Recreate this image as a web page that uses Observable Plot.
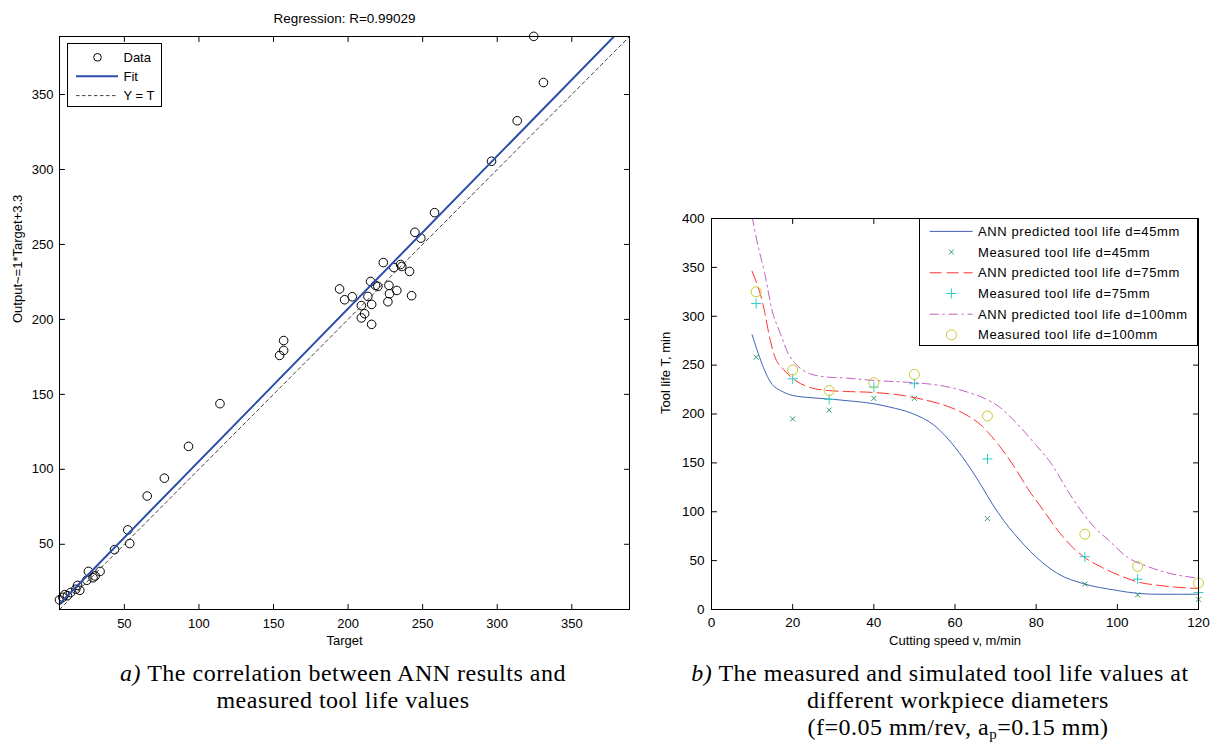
<!DOCTYPE html>
<html><head><meta charset="utf-8">
<script src="https://cdn.jsdelivr.net/npm/d3@7"></script>
<script src="https://cdn.jsdelivr.net/npm/@observablehq/plot@0.6"></script>
<style>
body{margin:0;background:#fff;}
#root{position:relative;width:1219px;height:749px;overflow:hidden;background:#fff;font-family:"Liberation Sans",Arial,sans-serif;color:#000;}
#root svg{position:absolute;overflow:visible;}
.legend{position:absolute;background:#fff;border:1px solid #000;box-sizing:border-box;}
.legend svg{position:absolute;left:0;top:0;}
.cap{position:absolute;font-family:"Liberation Serif","Times New Roman",serif;font-size:24px;letter-spacing:0.5px;line-height:27px;white-space:nowrap;text-align:center;color:#000;}
</style></head><body><div id="root"></div>
<script>
// ---------- Panel a: regression data ----------
const regTitle = "Regression: R=0.99029";
const regXLabel = "Target";
const regYLabel = "Output~=1*Target+3.3";
const regTarget = [258, 244.8, 248.8, 223.6, 230.7, 235.2, 236, 241.2, 215.1, 220, 218.4, 227.4, 232.7, 227.8, 194.3, 197.7, 202.8, 213.3, 242.6, 226.7, 215.8, 208.9, 211.1, 208.9, 215.8, 324.5, 331, 313.4, 296.2, 114.1, 93, 76.8, 65.3, 52.3, 53.6, 43.4, 156.8, 156.8, 154.1, 25.9, 33.7, 30.4, 29, 24.8, 18.6, 20.1, 17.4, 13.9, 10, 8.7, 6.5, 11.8];
const regOutput = [271.2, 258.1, 254.2, 237.9, 234.6, 236.6, 235.3, 232, 225.3, 222, 222.7, 222.7, 219.3, 217.1, 220.3, 213.1, 215.1, 215.3, 215.8, 211.8, 210, 209.2, 203.8, 201, 196.7, 388.8, 358, 332.5, 305.5, 143.8, 115.3, 94.1, 82.2, 59.6, 50.5, 46.4, 185.9, 179.3, 176, 31.9, 31.9, 28.9, 27.7, 26, 22.6, 19.3, 20, 17.8, 16.4, 14.6, 12.9, 15.7];
const regDomain = [6.5, 388.7];
const regTicks = [50, 100, 150, 200, 250, 300, 350];
const fitSlope = 1.018, fitIntercept = 3.6;
const regLegendLabels = ["Data", "Fit", "Y = T"];

// ---------- Panel b: tool life data ----------
const toolXLabel = "Cutting speed v, m/min";
const toolYLabel = "Tool life T, min";
const toolXTicks = [0, 20, 40, 60, 80, 100, 120];
const toolYTicks = [0, 50, 100, 150, 200, 250, 300, 350, 400];
const measV = [11, 20, 29, 40, 50, 68, 92, 105, 120];
const meas45 = [258, 195, 204, 216, 216, 93, 26, 15, 10.5];
const meas75 = [313, 236, 215, 227.5, 231, 154, 54, 31, 17.3];
const meas100 = [325, 245, 224, 232, 240.5, 198, 77, 44, 27];
const ann45V = [10, 15, 17, 20, 25, 30, 35, 40, 44, 49.5, 55, 60, 64, 66.6, 69.2, 72, 74.6, 80, 85.3, 91.6, 99.6, 105, 110, 120];
const ann45T = [281, 230, 224, 219, 216.5, 215, 213, 210.5, 207, 200.5, 188, 166, 143, 126, 108, 91, 77.5, 53.7, 36.7, 26.5, 19.7, 16.5, 15.6, 15.6];
const ann75V = [10, 12.7, 14.5, 15.4, 18.1, 20.8, 24.4, 28.8, 33.3, 40, 47.7, 53, 58.4, 63, 66.6, 68.2, 71, 74.6, 78.2, 81.8, 85.3, 88.9, 91.8, 96, 101.5, 105, 110, 114, 120];
const ann75T = [346, 312, 275, 261, 244, 234, 227, 224, 223, 222, 218.6, 214, 207.5, 198.5, 188, 181, 167, 146, 122, 101.4, 81, 64, 53.7, 43.5, 33.3, 28.2, 24.8, 23, 21.4];
const ann100V = [10, 10.8, 11.7, 12.4, 13.1, 13.9, 14.7, 17, 19, 20.8, 24.4, 28.8, 33.3, 40, 47.7, 53, 58.4, 63, 67.4, 71, 74.6, 80, 83.6, 88, 91.6, 94.3, 97.9, 102.4, 107.8, 113.2, 120];
const ann100T = [402, 385, 368, 356, 344, 327, 310, 282, 261, 251, 241, 237.7, 236.7, 234.3, 232.6, 231, 227.6, 222.5, 215.7, 207, 193, 168, 150, 120, 98, 84.4, 70.7, 53.7, 43.5, 36.7, 32];
const toolLegendLabels = ["ANN predicted tool life d=45mm", "Measured tool life d=45mm", "ANN predicted tool life d=75mm", "Measured tool life d=75mm", "ANN predicted tool life d=100mm", "Measured tool life d=100mm"];

const C = {fit: "#2b4ea8", blue: "#4262b8", green: "#2f9a6a", red: "#ff3030", cyan: "#2ccccc", purple: "#c060c0", yellow: "#c8c832"};

// ---------- helpers ----------
const tickShape = {draw(ctx, l) { ctx.moveTo(0, 0); ctx.lineTo(0, -l); }};
function boxTicks(xt, yt, len) {
  const o = {length: len, shape: tickShape, anchor: "start", stroke: "#000", strokeWidth: 1};
  return [
    Plot.vector(xt, {...o, x: d => d, frameAnchor: "bottom", rotate: 0}),
    Plot.vector(xt, {...o, x: d => d, frameAnchor: "top", rotate: 180}),
    Plot.vector(yt, {...o, y: d => d, frameAnchor: "left", rotate: 90}),
    Plot.vector(yt, {...o, y: d => d, frameAnchor: "right", rotate: 270})
  ];
}
const symX = {draw(c) { c.moveTo(-2.5, -2.5); c.lineTo(2.5, 2.5); c.moveTo(-2.5, 2.5); c.lineTo(2.5, -2.5); }};
const symPlus = {draw(c) { c.moveTo(-5, 0); c.lineTo(5, 0); c.moveTo(0, -5); c.lineTo(0, 5); }};
const symCircle = {draw(c) { c.moveTo(5, 0); c.arc(0, 0, 5, 0, 2 * Math.PI); }};

const root = document.getElementById("root");

// ---------- Panel a ----------
const regData = regTarget.map((t, i) => ({t, o: regOutput[i]}));
const fitLine = regDomain.map(x => ({x, y: fitSlope * x + fitIntercept}));
const idLine = regDomain.map(x => ({x, y: x}));
const left = Plot.plot({
  width: 640, height: 660,
  marginLeft: 59, marginRight: 11, marginTop: 36, marginBottom: 51,
  x: {domain: regDomain}, y: {domain: regDomain},
  style: {fontFamily: "'Liberation Sans', Arial, sans-serif", fontSize: "13px", color: "#000", background: "transparent"},
  marks: [
    Plot.dot(regData, {x: "t", y: "o", r: 4.3, stroke: "#000", strokeWidth: 1, fill: "none"}),
    Plot.line(fitLine, {x: "x", y: "y", stroke: C.fit, strokeWidth: 2, clip: true}),
    Plot.line(idLine, {x: "x", y: "y", stroke: "#444", strokeWidth: 1, strokeDasharray: "3.5,3", clip: true}),
    Plot.frame({stroke: "#000", strokeWidth: 1}),
    ...boxTicks(regTicks, regTicks, 5),
    Plot.axisX(regTicks, {anchor: "bottom", tickSize: 0, tickPadding: 9, label: null, fontSize: 13}),
    Plot.axisY(regTicks, {anchor: "left", tickSize: 0, tickPadding: 6, label: null, fontSize: 13}),
    Plot.text([regXLabel], {frameAnchor: "bottom", dy: 31, lineAnchor: "middle", fontSize: 13}),
    Plot.text([regYLabel], {frameAnchor: "left", dx: -42, rotate: -90, lineAnchor: "middle", fontSize: 13}),
    Plot.text([regTitle], {frameAnchor: "top", dy: -18, lineAnchor: "middle", fontSize: 13.5})
  ]
});
left.style.left = "0px"; left.style.top = "0px";
root.appendChild(left);

// ---------- Panel b ----------
const toRows = (V, T) => V.map((v, i) => ({v, t: T[i]}));
const right = Plot.plot({
  width: 579, height: 470,
  marginLeft: 71, marginRight: 21, marginTop: 28, marginBottom: 51,
  x: {domain: [0, 120]}, y: {domain: [0, 400]},
  style: {fontFamily: "'Liberation Sans', Arial, sans-serif", fontSize: "13px", color: "#000", background: "transparent"},
  marks: [
    Plot.line(toRows(ann45V, ann45T), {x: "v", y: "t", stroke: C.blue, strokeWidth: 1, curve: "monotone-x", clip: true}),
    Plot.dot(toRows(measV, meas45), {x: "v", y: "t", symbol: symX, stroke: C.green, fill: "none", strokeWidth: 1}),
    Plot.line(toRows(ann75V, ann75T), {x: "v", y: "t", stroke: C.red, strokeWidth: 1, strokeDasharray: "12,5", curve: "monotone-x", clip: true}),
    Plot.dot(toRows(measV, meas75), {x: "v", y: "t", symbol: symPlus, stroke: C.cyan, fill: "none", strokeWidth: 1}),
    Plot.line(toRows(ann100V, ann100T), {x: "v", y: "t", stroke: C.purple, strokeWidth: 1, strokeDasharray: "9,4,2,4", curve: "monotone-x", clip: true}),
    Plot.dot(toRows(measV, meas100), {x: "v", y: "t", symbol: symCircle, stroke: C.yellow, fill: "none", strokeWidth: 1}),
    Plot.frame({stroke: "#000", strokeWidth: 1}),
    ...boxTicks(toolXTicks, toolYTicks, 5),
    Plot.axisX(toolXTicks, {anchor: "bottom", tickSize: 0, tickPadding: 8, label: null, fontSize: 13.5}),
    Plot.axisY(toolYTicks, {anchor: "left", tickSize: 0, tickPadding: 7, label: null, fontSize: 13.5}),
    Plot.text([toolXLabel], {frameAnchor: "bottom", dy: 31, lineAnchor: "middle", fontSize: 13, letterSpacing: "0.5px"}),
    Plot.text([toolYLabel], {frameAnchor: "left", dx: -46, rotate: -90, lineAnchor: "middle", fontSize: 13, letterSpacing: "0.5px"})
  ]
});
right.style.left = "640px"; right.style.top = "190px";
root.appendChild(right);

// ---------- Legends ----------
function legendBox(x, y, w, h, rows, textX, fontSize, ls) {
  const div = document.createElement("div");
  div.className = "legend";
  Object.assign(div.style, {left: x + "px", top: y + "px", width: w + "px", height: h + "px"});
  let s = `<svg width="${w}" height="${h}" style="font-family:'Liberation Sans',Arial,sans-serif;font-size:${fontSize}px;letter-spacing:${ls}px">`;
  for (const r of rows) {
    s += r.sample;
    s += `<text x="${textX}" y="${r.y}" dy="0.35em" fill="#000">${r.label}</text>`;
  }
  s += "</svg>";
  div.innerHTML = s;
  root.appendChild(div);
}
// panel a legend
{
  const ys = [13.3, 32.3, 51.6];
  legendBox(67, 43, 95, 64, [
    {y: ys[0], label: regLegendLabels[0], sample: `<circle cx="29.5" cy="${ys[0]}" r="3.8" fill="none" stroke="#000"/>`},
    {y: ys[1], label: regLegendLabels[1], sample: `<line x1="8" x2="50" y1="${ys[1]}" y2="${ys[1]}" stroke="${C.fit}" stroke-width="2"/>`},
    {y: ys[2], label: regLegendLabels[2], sample: `<line x1="8" x2="50" y1="${ys[2]}" y2="${ys[2]}" stroke="#444" stroke-dasharray="3.5,2.5"/>`}
  ], 55.5, 13, 0);
}
// panel b legend
{
  const ys = [12.4, 33.1, 53.8, 74.5, 95.2, 115.9];
  const mx = 31.4;
  const line = (y, col, dash) => `<line x1="9.6" x2="52.6" y1="${y}" y2="${y}" stroke="${col}" ${dash ? `stroke-dasharray="${dash}"` : ""}/>`;
  legendBox(919, 218, 279, 128, [
    {y: ys[0], label: toolLegendLabels[0], sample: line(ys[0], C.blue)},
    {y: ys[1], label: toolLegendLabels[1], sample: `<path d="M${mx-2.5},${ys[1]-2.5}L${mx+2.5},${ys[1]+2.5}M${mx-2.5},${ys[1]+2.5}L${mx+2.5},${ys[1]-2.5}" stroke="${C.green}"/>`},
    {y: ys[2], label: toolLegendLabels[2], sample: line(ys[2], C.red, "12,5")},
    {y: ys[3], label: toolLegendLabels[3], sample: `<path d="M${mx-5},${ys[3]}L${mx+5},${ys[3]}M${mx},${ys[3]-5}L${mx},${ys[3]+5}" stroke="${C.cyan}"/>`},
    {y: ys[4], label: toolLegendLabels[4], sample: line(ys[4], C.purple, "9,4,2,4")},
    {y: ys[5], label: toolLegendLabels[5], sample: `<circle cx="${mx}" cy="${ys[5]}" r="5" fill="none" stroke="${C.yellow}"/>`}
  ], 58, 13, 0.6);
}

// ---------- Captions ----------
function cap(html, x, y, w, align) {
  const d = document.createElement("div");
  d.className = "cap";
  d.innerHTML = html;
  Object.assign(d.style, {left: x + "px", top: y + "px", width: w + "px", textAlign: align});
  root.appendChild(d);
}
cap("<i>a)</i> The correlation between ANN results and<br>measured tool life values", 43, 659.5, 600, "center");
cap("<i>b)</i> The measured and simulated tool life values at", 640, 659.5, 600, "center");
cap("different workpiece diameters<br>(f=0.05 mm/rev, a<sub style='font-size:15px;vertical-align:-4px;line-height:0'>p</sub>=0.15 mm)", 658, 686.5, 600, "center");
</script>
</body></html>
